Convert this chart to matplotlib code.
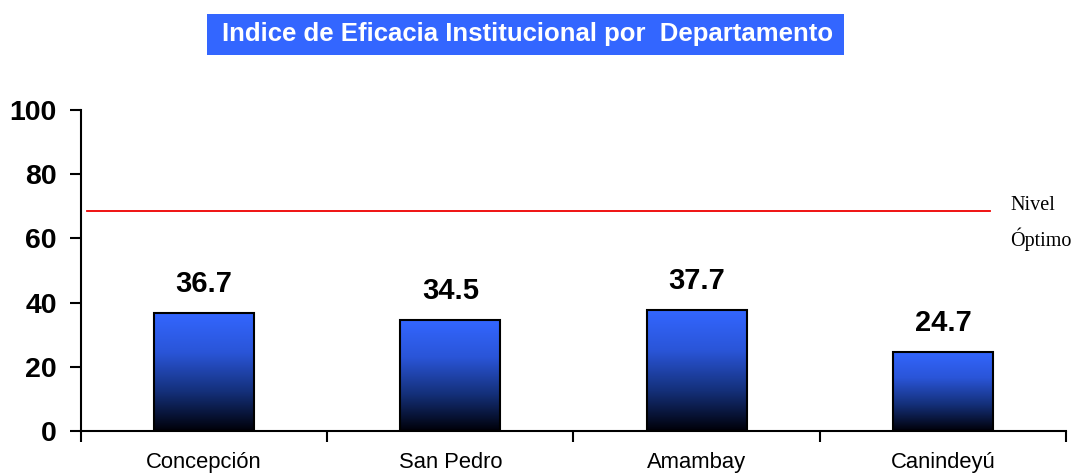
import numpy as np
import matplotlib.pyplot as plt
from matplotlib.colors import LinearSegmentedColormap
from matplotlib.patches import Rectangle

departamentos = ['Concepción', 'San Pedro', 'Amambay', 'Canindeyú']
valores = [36.7, 34.5, 37.7, 24.7]
nivel_optimo = 68.5
y_ticks = [0, 20, 40, 60, 80, 100]

plt.rcParams['font.family'] = ['Liberation Sans', 'DejaVu Sans']

fig = plt.figure(figsize=(10.78, 4.74), dpi=100)
ax = fig.add_axes([0.0751, 0.0907, 0.9138, 0.677])

x = np.arange(len(departamentos))
bars = ax.bar(x, valores, width=0.406, color='none', edgecolor='black', linewidth=1.5, zorder=3)

cmap = LinearSegmentedColormap.from_list('azul', ['#000008', '#14307a', '#2a55d8', '#3366ff'])
grad = np.linspace(0, 1, 256).reshape(-1, 1)
for b in bars:
    im = ax.imshow(grad, cmap=cmap, aspect='auto', origin='lower',
                   extent=[b.get_x(), b.get_x() + b.get_width(), 0, b.get_height()], zorder=2)
    im.set_clip_path(b)

for xi, v in zip(x, valores):
    ax.text(xi, v + 6.5, f'{v:.1f}', ha='center', va='baseline', fontsize=21, fontweight='bold')

ax.plot([-0.476, 3.19], [nivel_optimo, nivel_optimo], color='#ee0000', linewidth=1.3, zorder=4)
ax.text(3.275, nivel_optimo - 3.8, 'Nivel\nÓptimo', family='Liberation Serif', fontsize=14.5,
        ha='left', va='center', linespacing=1.65)

ax.set_xlim(-0.5, 3.5)
ax.set_ylim(0, 100)
ax.set_yticks(y_ticks)
ax.set_yticklabels([str(t) for t in y_ticks], fontsize=20.5, fontweight='bold')
ax.set_xticks(np.arange(-0.5, 3.6, 1.0))
ax.set_xticklabels([])
ax.tick_params(axis='both', direction='out', length=8, width=1.5)
ax.tick_params(axis='y', pad=9.5)
for xi, name in zip(x, departamentos):
    ax.text(xi, -11.4, name, ha='center', va='baseline', fontsize=15.8)

ax.spines['top'].set_visible(False)
ax.spines['right'].set_visible(False)
ax.spines['left'].set_linewidth(1.5)
ax.spines['bottom'].set_linewidth(1.5)
ax.set_xlim(-0.5, 3.5)

fig.patches.append(Rectangle((207 / 1078, 1 - 55 / 474), 637 / 1078, 41 / 474,
                             transform=fig.transFigure, facecolor='#3366ff', edgecolor='none'))
fig.text(527.5 / 1078, 1 - 34.5 / 474, 'Indice de Eficacia Institucional por  Departamento',
         ha='center', va='center', color='white', fontsize=18.5, fontweight='bold')

fig.savefig('out.png', dpi=100)
